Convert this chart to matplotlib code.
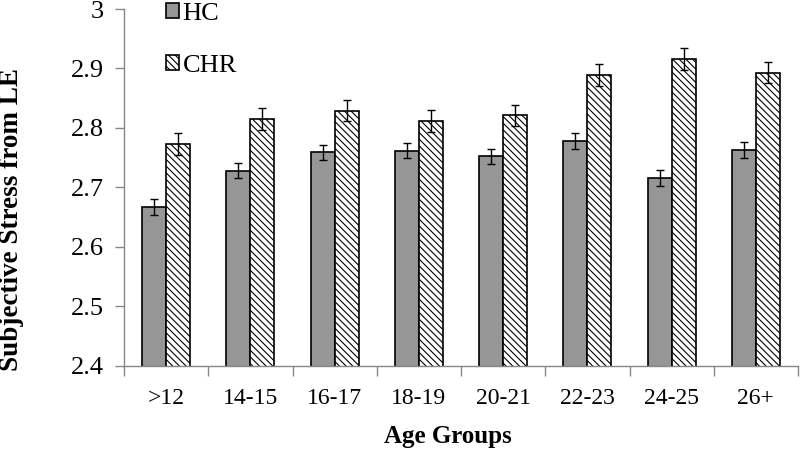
import matplotlib
matplotlib.use("Agg")
import matplotlib.pyplot as plt
import numpy as np

categories = [">12", "14-15", "16-17", "18-19", "20-21", "22-23", "24-25", "26+"]
hc_values = [2.667, 2.728, 2.759, 2.762, 2.752, 2.778, 2.716, 2.763]
hc_err = [0.013, 0.013, 0.013, 0.013, 0.013, 0.013, 0.013, 0.013]
chr_values = [2.773, 2.815, 2.829, 2.812, 2.821, 2.889, 2.916, 2.893]
chr_err = [0.018, 0.018, 0.018, 0.018, 0.018, 0.018, 0.018, 0.018]
y_ticks = [2.4, 2.5, 2.6, 2.7, 2.8, 2.9, 3.0]
y_ticklabels = ["2.4", "2.5", "2.6", "2.7", "2.8", "2.9", "3"]

plt.rcParams['font.family'] = ['Liberation Serif', 'DejaVu Serif']
plt.rcParams['hatch.linewidth'] = 0.8

fig = plt.figure(figsize=(8, 4.51), dpi=100)
ax = fig.add_axes([0.155, 0.189, 0.8425, 0.791])

x = np.arange(len(categories))
w = 0.285
axis_color = '#868686'

ax.bar(x - w / 2, hc_values, w, bottom=0, color='#969696', edgecolor='black',
       linewidth=1.2, label='HC', zorder=2)
ax.bar(x + w / 2, chr_values, w, color='white', edgecolor='black', hatch='\\\\\\\\\\',
       linewidth=1.2, label='CHR', zorder=2)
ax.errorbar(x - w / 2, hc_values, yerr=hc_err, fmt='none', ecolor='black',
            elinewidth=1, capsize=3, capthick=1, zorder=3)
ax.errorbar(x + w / 2, chr_values, yerr=chr_err, fmt='none', ecolor='black',
            elinewidth=1, capsize=3, capthick=1, zorder=3)

ax.set_ylim(2.4, 3.0)
ax.set_xlim(-0.5, len(categories) - 0.5)
ax.set_yticks(y_ticks)
ax.set_yticklabels(y_ticklabels, fontsize=19)
ax.set_xticks(x)
ax.set_xticklabels(categories, fontsize=17)
ax.set_xticks(np.arange(len(categories) + 1) - 0.5, minor=True)
ax.tick_params(axis='x', which='major', length=0, pad=16)
ax.tick_params(axis='x', which='minor', length=7, color=axis_color, width=1)
ax.tick_params(axis='y', length=6.5, color=axis_color, width=1, pad=8)

for s in ['top', 'right']:
    ax.spines[s].set_visible(False)
for s in ['left', 'bottom']:
    ax.spines[s].set_color(axis_color)
    ax.spines[s].set_linewidth(1)

ax.set_ylabel('Subjective Stress from LE', fontsize=19.5, fontweight='bold')
ax.yaxis.set_label_coords((12 - 124) / 674, (366 - 220) / 357)
ax.set_xlabel('Age Groups', fontsize=18, fontweight='bold')
ax.xaxis.set_label_coords((448 - 124) / 674, -(437 - 366) / 357)
ax.xaxis.label.set_verticalalignment('center')
ax.yaxis.label.set_verticalalignment('center')

leg = fig.legend(loc='upper left', bbox_to_anchor=(165.5 / 800, 1 - 3 / 451),
                 frameon=False, fontsize=19, handlelength=0.5, handleheight=0.5,
                 handletextpad=0.15, labelspacing=1.12, borderpad=0, borderaxespad=0)

fig.savefig('out.png', dpi=100)
